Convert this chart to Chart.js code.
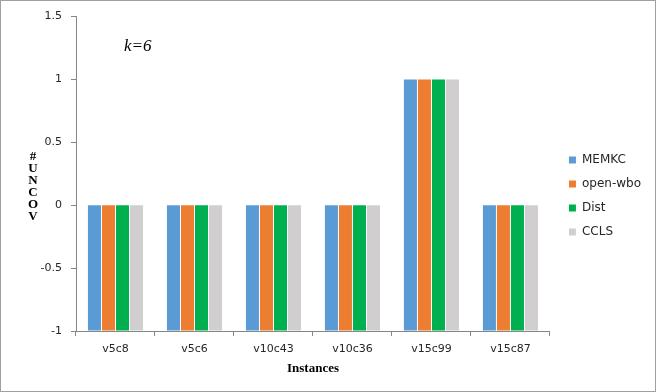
<!DOCTYPE html>
<html>
<head>
<meta charset="utf-8">
<script src="https://cdn.jsdelivr.net/npm/chart.js@4.4.1/dist/chart.umd.min.js"></script>
<style>
  html, body { margin: 0; padding: 0; background: #fff; }
  #wrap {
    position: relative;
    width: 656px;
    height: 392px;
    box-sizing: border-box;
    border: 1px solid #a0a0a0;
  }
</style>
</head>
<body>
<div id="wrap"><canvas id="chart"></canvas></div>
<script>
// #UNCOV per instance, k=6

// --- Data ---
const instances = ['v5c8', 'v5c6', 'v10c43', 'v10c36', 'v15c99', 'v15c87'];
const memkc   = [0, 0, 0, 0, 1, 0];
const openWbo = [0, 0, 0, 0, 1, 0];
const dist    = [0, 0, 0, 0, 1, 0];
const ccls    = [0, 0, 0, 0, 1, 0];
const yTicks  = [-1, -0.5, 0, 0.5, 1, 1.5];

// --- Colors ---
const blue   = '#5B9BD5';
const orange = '#ED7D31';
const green  = '#00B050';
const grey   = '#D0CECE';
const axisColor = '#868686';
const textColor = '#262626';

Chart.defaults.font.family = '"DejaVu Sans", sans-serif';
Chart.defaults.font.size = 11;
Chart.defaults.color = textColor;

// --- Extra drawing: stacked y title, k=6 note, legend nudge ---
const extras = {
    id: 'extras',
    afterLayout(chart) {
        // legend sits a bit higher and further right than Chart.js puts it
        const lg = chart.legend;
        lg.left += 7;
        lg.right += 7;
        lg.top -= 7;
        lg.bottom -= 7;
    },
    afterDraw(chart) {
        const ctx = chart.ctx;
        ctx.save();

        // y title, one letter per line
        ctx.font = 'bold 13px "Liberation Serif", serif';
        ctx.fillStyle = '#000';
        ctx.textAlign = 'center';
        ctx.textBaseline = 'middle';
        '#UNCOV'.split('').forEach(function (ch, i) {
            ctx.fillText(ch, 32, 156 + i * 12);
        });

        // k=6 note
        ctx.font = 'italic 17px "Liberation Serif", serif';
        ctx.textAlign = 'left';
        ctx.textBaseline = 'alphabetic';
        ctx.fillText('k=6', 123, 50);

        ctx.restore();
    }
};

// --- Create chart ---
const chart = new Chart(document.getElementById('chart'), {
    type: 'bar',
    data: {
        labels: instances,
        datasets: [
            { label: 'MEMKC', data: memkc, backgroundColor: blue },
            { label: 'open-wbo', data: openWbo, backgroundColor: orange },
            { label: 'Dist', data: dist, backgroundColor: green },
            { label: 'CCLS', data: ccls, backgroundColor: grey }
        ]
    },
    options: {
        responsive: true,
        maintainAspectRatio: false,
        animation: false,
        layout: { padding: { top: 14, right: 11, bottom: 0, left: 0 } },
        datasets: {
            bar: { base: -1, categoryPercentage: 0.71, barPercentage: 0.93 }
        },
        plugins: {
            tooltip: { enabled: false },
            legend: {
                position: 'right',
                align: 'center',
                labels: {
                    boxWidth: 7,
                    boxHeight: 7,
                    padding: 12,
                    color: textColor,
                    font: { size: 12 }
                }
            }
        },
        scales: {
            x: {
                grid: { drawOnChartArea: false, drawTicks: true, tickLength: 5, color: axisColor },
                border: { color: axisColor },
                ticks: { padding: 7, color: textColor },
                title: {
                    display: true,
                    text: 'Instances',
                    color: '#000',
                    font: { family: '"Liberation Serif", serif', size: 13, weight: 'bold' },
                    padding: { top: 4, bottom: 15 }
                },
                afterFit: function (scale) { scale.height = 60; }
            },
            y: {
                min: -1,
                max: 1.5,
                grid: { drawOnChartArea: false, drawTicks: true, tickLength: 5, color: axisColor },
                border: { color: axisColor },
                ticks: {
                    padding: 9,
                    color: textColor,
                    callback: function (value) { return String(value); }
                },
                afterBuildTicks: function (axis) {
                    axis.ticks = yTicks.map(function (v) { return { value: v }; });
                },
                afterFit: function (scale) { scale.width = 75; }
            }
        }
    },
    plugins: [extras]
});
</script>
</body>
</html>
